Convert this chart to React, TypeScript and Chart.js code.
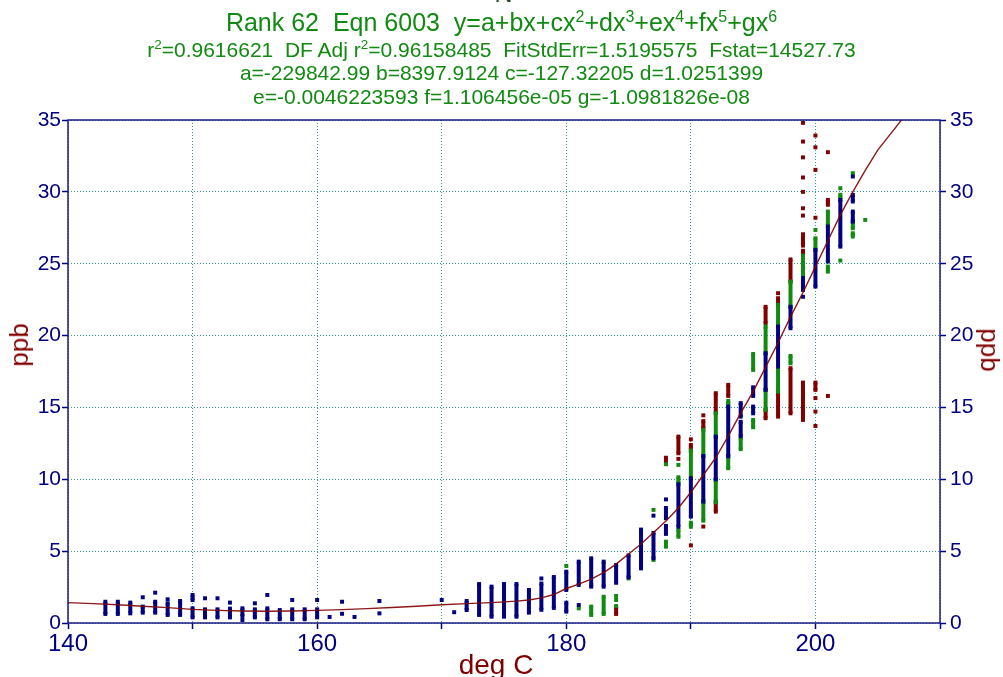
import React, { useEffect, useRef } from "react";
import { Chart, registerables } from "chart.js";

Chart.register(...registerables);

// ---------- data ----------
// runs: [x, yTop, yBottom] for stacked points, [x, y] for single points
const navyRuns: number[][] = [
  [143, 1.48, 0.63], [144, 1.48, 0.63], [145, 1.42, 0.67],
  [146, 1.79], [146, 1.14, 0.72],
  [147, 2.11], [147, 1.48, 0.72],
  [148, 1.65], [148, 1.37, 0.56],
  [149, 1.53, 0.56],
  [150, 1.95, 1.6], [150, 1.02, 0.39],
  [151, 1.72], [151, 0.95, 0.39],
  [152, 1.72], [152, 0.95, 0.39],
  [153, 1.42], [153, 1.0, 0.39],
  [154, 1.02, 0.49], [154, 0.21],
  [155, 1.37], [155, 0.95, 0.39],
  [156, 1.95], [156, 1.02, 0.26],
  [157, 0.9, 0.26],
  [158, 1.6], [158, 0.95, 0.26],
  [159, 0.95, 0.26],
  [160, 1.6], [160, 0.95, 0.39],
  [161, 0.42],
  [162, 1.48], [162, 0.64],
  [163, 0.42],
  [165, 1.53], [165, 0.67],
  [170, 1.6],
  [171, 0.75],
  [172, 1.53, 0.9],
  [173, 2.71, 0.56],
  [174, 2.53, 0.44],
  [175, 2.71, 0.44],
  [176, 2.71, 0.44],
  [177, 2.3, 0.72],
  [178, 3.1], [178, 2.75, 0.92],
  [179, 3.2, 1.05],
  [180, 3.57, 2.3], [180, 1.41, 0.79],
  [181, 4.27, 2.65], [181, 1.25],
  [182, 4.5, 2.53],
  [183, 4.27, 2.53],
  [184, 4.04, 2.8],
  [185, 4.7, 3.18],
  [186, 6.5, 3.8],
  [187, 7.47], [187, 6.27, 4.5],
  [188, 8.6], [188, 8.0, 7.29], [188, 6.75, 6.2],
  [189, 9.65, 6.7],
  [190, 10.07, 7.4],
  [191, 11.62, 8.45],
  [192, 12.97, 10.0],
  [193, 15.06, 11.6],
  [194, 15.3, 14.36], [194, 14.0, 13.0],
  [195, 16.4, 15.8], [195, 15.06, 14.59],
  [196, 18.77, 16.22],
  [197, 20.63, 17.84],
  [198, 22.0, 20.51],
  [199, 24.0, 23.18], [199, 22.7],
  [200, 25.96, 23.41],
  [201, 27.59, 25.15],
  [202, 29.44, 26.19],
  [203, 31.07], [203, 29.79, 29.33], [203, 28.63, 27.93],
];

const greenRuns: number[][] = [
  [180, 3.97],
  [181, 1.02],
  [182, 1.14, 0.56],
  [183, 1.83, 0.63],
  [184, 1.88], [184, 1.6], [184, 1.18],
  [185, 3.1],
  [187, 7.87], [187, 4.39],
  [188, 11.05], [188, 5.66, 5.31],
  [189, 11.0], [189, 10.14, 9.72], [189, 6.47, 6.0],
  [190, 12.0, 10.07], [190, 6.98, 6.7],
  [191, 13.43, 11.62], [191, 8.45, 7.12],
  [192, 14.6, 12.97], [192, 9.95, 8.4],
  [193, 15.45, 15.2], [193, 11.6, 10.77],
  [194, 12.85, 12.1],
  [195, 18.72, 17.61], [195, 14.13, 13.62],
  [196, 20.63, 18.77], [196, 16.22, 14.83],
  [197, 22.13, 20.63], [197, 17.61, 16.1],
  [198, 23.76, 22.0], [198, 18.58, 18.07],
  [199, 25.55, 24.15],
  [200, 27.35], [200, 26.77, 26.0],
  [201, 28.63, 27.7], [201, 24.8, 24.45],
  [202, 30.25], [202, 29.8, 29.5], [202, 25.22],
  [203, 31.3], [203, 27.93, 27.47], [203, 27.12, 26.89],
  [204, 28.05],
];

const redRuns: number[][] = [
  [184, 1.09, 0.63],
  [188, 11.5, 11.1],
  [189, 12.97, 11.81], [189, 11.42],
  [190, 12.78], [190, 12.39, 12.05], [190, 5.4],
  [191, 14.45], [191, 14.05, 13.55], [191, 6.71],
  [192, 15.99, 14.6], [192, 8.45, 7.75],
  [193, 16.57, 15.8],
  [196, 22.0, 20.86], [196, 14.83, 14.25],
  [197, 22.95], [197, 22.6, 22.13], [197, 16.1, 14.36],
  [198, 25.3, 23.76], [198, 17.73, 14.59],
  [199, 34.8], [199, 33.5], [199, 32.4], [199, 31.0], [199, 30.0], [199, 28.86], [199, 28.35],
  [199, 27.05, 26.26], [199, 25.9, 25.61], [199, 16.73, 14.13],
  [200, 33.92], [200, 33.1], [200, 31.53], [200, 28.2], [200, 16.73, 16.22], [200, 15.65], [200, 14.71], [200, 13.71],
  [201, 32.76], [201, 29.44, 29.1], [201, 15.8],
];

const curveX = [140, 142, 144, 146, 148, 150, 152, 154, 156, 158, 160, 162, 164, 166, 168, 170, 172, 174, 176, 177, 178, 179, 180, 181, 182, 183, 184, 185, 186, 187, 188, 189, 190, 191, 192, 193, 194, 195, 196, 197, 198, 199, 200, 201, 202, 203, 204, 205, 206, 207, 208];
const curveY = [1.42, 1.35, 1.27, 1.17, 1.07, 0.95, 0.88, 0.84, 0.82, 0.84, 0.88, 0.93, 1.0, 1.08, 1.17, 1.27, 1.35, 1.42, 1.52, 1.6, 1.75, 1.98, 2.4, 2.7, 3.05, 3.5, 4.1, 4.8, 5.5, 6.3, 7.1, 8.0, 9.1, 10.3, 11.5, 13.0, 14.6, 16.1, 17.8, 19.5, 21.3, 23.0, 24.8, 26.6, 28.4, 30.0, 31.5, 32.9, 34.0, 35.1, 36.0];

const xMin = 140, xMax = 210, xStep = 10, xLabelEvery = 20;
const yMin = 0, yMax = 35, yStep = 5;

// ---------- styles ----------
const FONT = '"Liberation Sans", Arial, sans-serif';
const NAVY = "#000080";
const GREEN = "#128a12";
const MAROON = "#800000";
const TEAL = "rgba(0,140,140,0.85)";

function runsToPoints(runs: number[][]) {
  const pts: { x: number; y: number | null }[] = [];
  for (const r of runs) {
    pts.push({ x: r[0], y: r[1] });
    if (r.length > 2) pts.push({ x: r[0], y: r[2] });
    pts.push({ x: r[0], y: null });
  }
  return pts;
}

function pointDataset(runs: number[][], color: string) {
  return {
    data: runsToPoints(runs),
    showLine: true,
    borderColor: color,
    backgroundColor: color,
    borderWidth: 4,
    borderCapStyle: "butt" as const,
    pointStyle: "rect" as const,
    pointRadius: 2.8,
    pointBorderWidth: 0,
    pointHoverRadius: 2.8,
    spanGaps: false,
  };
}

const framePlugin = {
  id: "frame",
  afterDatasetsDraw(chart: any) {
    const { ctx, chartArea } = chart;
    const { left, top, right, bottom } = chartArea;
    ctx.save();
    ctx.strokeStyle = "#1a1a80";
    ctx.lineWidth = 1.5;
    ctx.strokeRect(left, top, right - left, bottom - top);
    ctx.restore();
  },
};

export default function App() {
  const ref = useRef<HTMLCanvasElement>(null);

  useEffect(() => {
    document.body.style.margin = "0";
    const curve = curveX.map((x, i) => ({ x, y: curveY[i] }));
    const yTickFont = { family: FONT, size: 21 };
    const xTickFont = { family: FONT, size: 24 };
    const chart = new Chart(ref.current!, {
      type: "scatter",
      data: {
        datasets: [
          {
            data: curve,
            showLine: true,
            borderColor: "rgba(128,0,0,0.9)",
            borderWidth: 1.4,
            pointRadius: 0,
            pointHoverRadius: 0,
          } as any,
          pointDataset(navyRuns, NAVY) as any,
          pointDataset(greenRuns, GREEN) as any,
          pointDataset(redRuns, MAROON) as any,
        ],
      },
      options: {
        animation: false,
        responsive: false,
        devicePixelRatio: 1,
        layout: { padding: { top: 120, left: 0, right: 0, bottom: 0 } },
        plugins: {
          legend: { display: false },
          tooltip: { enabled: false },
          title: { display: false },
        },
        events: [],
        scales: {
          x: {
            type: "linear",
            position: "bottom",
            min: xMin,
            max: xMax,
            afterFit: (s: any) => { s.height = 54; },
            ticks: {
              stepSize: xStep,
              autoSkip: false,
              maxRotation: 0,
              color: NAVY,
              font: xTickFont,
              padding: 1,
              callback: (v: any) => (Number(v) % xLabelEvery === 0 ? String(v) : ""),
            },
            grid: { color: TEAL, lineWidth: 1, tickColor: NAVY, tickLength: 6, tickBorderDash: [], tickWidth: 1.5 },
            border: { display: false, dash: [1, 2] },
          },
          y: {
            type: "linear",
            position: "left",
            min: yMin,
            max: yMax,
            afterFit: (s: any) => { s.width = 68; },
            ticks: { stepSize: yStep, color: NAVY, font: yTickFont, padding: 1 },
            grid: { color: TEAL, lineWidth: 1, tickColor: NAVY, tickLength: 6, tickBorderDash: [], tickWidth: 1.5 },
            border: { display: false, dash: [1, 2] },
          },
          y2: {
            type: "linear",
            position: "right",
            min: yMin,
            max: yMax,
            afterFit: (s: any) => { s.width = 63; },
            ticks: { stepSize: yStep, color: NAVY, font: yTickFont, padding: 4 },
            grid: { drawOnChartArea: false, tickColor: NAVY, tickLength: 6, tickWidth: 1.5 },
            border: { display: false },
          },
        },
      } as any,
      plugins: [framePlugin],
    });
    return () => chart.destroy();
  }, []);

  const sup = { fontSize: "0.64em", lineHeight: 0 } as React.CSSProperties;
  const line = (top: number, size: number): React.CSSProperties => ({
    position: "absolute",
    left: 0,
    width: 1003,
    top,
    textAlign: "center",
    fontSize: size,
    lineHeight: `${size}px`,
    color: GREEN,
    whiteSpace: "pre",
  });

  return (
    <div style={{ position: "relative", width: 1003, height: 677, overflow: "hidden", background: "#fff", fontFamily: FONT }}>
      <canvas ref={ref} width={1003} height={677} style={{ position: "absolute", left: 0, top: 0 }} />
      <div style={{ ...line(-19, 25), color: "#204a30", left: 2 }}>N</div>
      <div style={line(10, 25)}>
        {"Rank 62  Eqn 6003  y=a+bx+cx"}<sup style={sup}>2</sup>{"+dx"}<sup style={sup}>3</sup>{"+ex"}<sup style={sup}>4</sup>{"+fx"}<sup style={sup}>5</sup>{"+gx"}<sup style={sup}>6</sup>
      </div>
      <div style={line(39, 21)}>
        {"r"}<sup style={sup}>2</sup>{"=0.9616621  DF Adj r"}<sup style={sup}>2</sup>{"=0.96158485  FitStdErr=1.5195575  Fstat=14527.73"}
      </div>
      <div style={line(62, 21)}>{"a=-229842.99 b=8397.9124 c=-127.32205 d=1.0251399"}</div>
      <div style={line(86, 21)}>{"e=-0.0046223593 f=1.106456e-05 g=-1.0981826e-08"}</div>
      <div style={{ position: "absolute", left: 19, top: 345, transform: "translate(-50%,-50%) rotate(-90deg)", fontSize: 26, lineHeight: "26px", color: MAROON, whiteSpace: "pre" }}>ppb</div>
      <div style={{ position: "absolute", left: 990, top: 350, transform: "translate(-50%,-50%) rotate(90deg)", fontSize: 26, lineHeight: "26px", color: MAROON, whiteSpace: "pre" }}>ppb</div>
      <div style={{ position: "absolute", left: 0, width: 992, top: 651, textAlign: "center", fontSize: 28, lineHeight: "28px", color: MAROON, whiteSpace: "pre" }}>deg C</div>
    </div>
  );
}
